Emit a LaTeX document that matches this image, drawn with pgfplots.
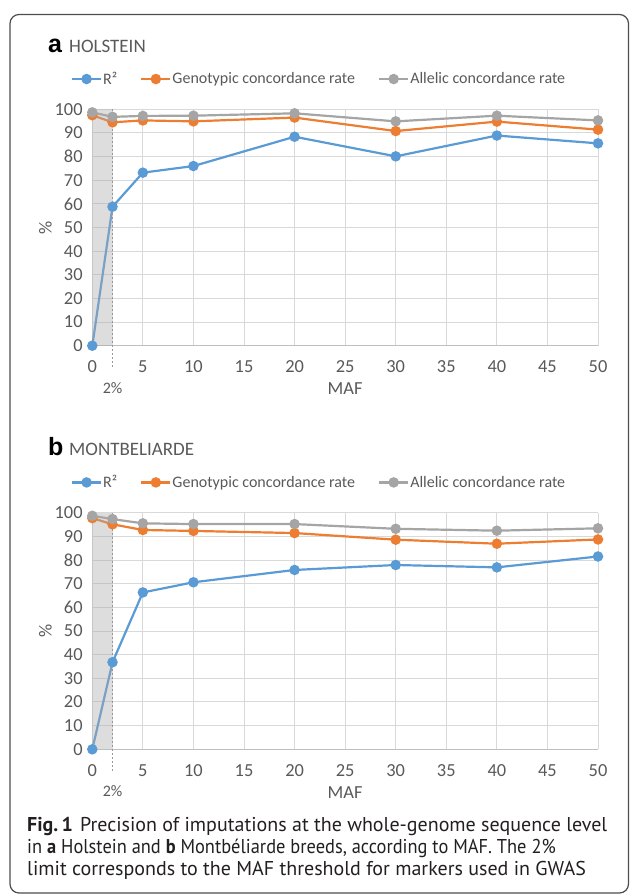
\documentclass[border=0pt]{standalone}
\usepackage{fontspec}
\usepackage{pgfplots}
\pgfplotsset{compat=1.18}
\setmainfont{Carlito}
\newfontfamily\capfont{PT Sans}
\newfontfamily\panelfont{Liberation Sans}

\definecolor{cblue}{HTML}{5B9BD5}
\definecolor{corange}{HTML}{ED7D31}
\definecolor{cgray}{HTML}{A5A5A5}
\definecolor{gridc}{HTML}{D9D9D9}
\definecolor{axc}{HTML}{BFBFBF}
\definecolor{txt}{HTML}{595959}
\definecolor{shadec}{HTML}{AAAAAA}
\definecolor{capc}{HTML}{231F20}
\definecolor{bord}{HTML}{4D4D4D}

\newcommand{\tickfont}{\fontsize{18.4}{20}\selectfont}
\newcommand{\legfont}{\fontsize{16}{18}\selectfont}

\pgfplotsset{
 mafaxis/.style={
  scale only axis, width=505.7pt,
  xmin=0, xmax=50, ymin=0, ymax=100,
  xtick={0,5,...,50}, ytick={0,10,...,100},
  axis lines*=left, axis line style={-},
  y axis line style={draw=none},
  x axis line style={draw=axc, line width=1.1pt},
  grid=major, grid style={draw=gridc, line width=1pt},
  major tick length=0pt,
  tick label style={font=\tickfont, text=txt},
  /pgf/number format/assume math mode=true,
  xticklabel style={anchor=center, inner sep=0pt, yshift=-21pt},
  yticklabel style={anchor=east, inner sep=0pt, xshift=-9.5pt},
  xlabel={MAF},
  xlabel style={at={(axis description cs:0.5,-0.182)}, anchor=center, font=\tickfont, text=txt},
  ylabel={\%},
  ylabel style={at={(axis description cs:-0.0929,0.5)}, anchor=center, font=\tickfont, text=txt},
  clip=false,
  legend columns=3,
  legend cell align=left,
  legend style={draw=none, fill=none, inner sep=0pt, outer sep=0pt,
    font=\legfont, nodes={inner sep=1pt, text=txt},
    at={(axis description cs:-0.0421,1.128)}, anchor=west,
    /tikz/every even column/.append style={column sep=22pt}},
  legend image code/.code={\draw[mark repeat=2,mark phase=2,#1] plot coordinates {(0pt,0pt) (14.5pt,0pt) (29pt,0pt)};},
 },
 ser/.style={color=#1, line width=2.2pt, mark=*, mark size=4.1pt, mark options={solid, fill=#1, draw=none}},
}

\begin{document}
\begin{tikzpicture}[x=1pt,y=1pt]
\useasboundingbox (0,0) rectangle (630,-895);
\draw[line width=1.2pt, color=bord, rounded corners=9pt] (10,-14.5) rectangle (628.5,-893);

% ---------- panel a ----------
\node[anchor=base west, inner sep=0pt, font=\panelfont\fontsize{25}{25}\selectfont\bfseries] at (48,-52) {a};
\node[anchor=base west, inner sep=0pt, font=\fontsize{19}{20}\selectfont, text=txt] at (69,-52) {HOLSTEIN};

\begin{axis}[mafaxis, height=236.4pt, at={(92.3pt,-345.7pt)}, anchor=south west]
\addplot[ser=cblue] coordinates {(0,0) (2,58.8) (5,73.2) (10,76.0) (20,88.4) (30,80.1) (40,88.9) (50,85.6)};
\addlegendentry{R²}
\addplot[ser=corange] coordinates {(0,97.5) (2,94.5) (5,95.3) (10,94.9) (20,96.5) (30,90.8) (40,94.8) (50,91.4)};
\addlegendentry{Genotypic concordance rate}
\addplot[ser=cgray] coordinates {(0,98.7) (2,96.8) (5,97.2) (10,97.3) (20,98.3) (30,94.9) (40,97.3) (50,95.3)};
\addlegendentry{Allelic concordance rate}
\fill[shadec, opacity=0.4] (axis cs:0,0) rectangle (axis cs:2,100);
\draw[dash pattern=on 2pt off 2pt, color=gray!80, line width=0.7pt] (axis cs:2,100) -- ([yshift=-22pt]axis cs:2,0);
\node[font=\legfont, text=txt, inner sep=0pt] at ([yshift=-42pt]axis cs:2,0) {2\%};
\end{axis}

% ---------- panel b ----------
\node[anchor=base west, inner sep=0pt, font=\panelfont\fontsize{25}{25}\selectfont\bfseries] at (48,-455.4) {b};
\node[anchor=base west, inner sep=0pt, font=\fontsize{19}{20}\selectfont, text=txt] at (69,-455.4) {MONTBELIARDE};

\begin{axis}[mafaxis, height=236.6pt, at={(92.3pt,-749.3pt)}, anchor=south west]
\addplot[ser=cblue] coordinates {(0,0) (2,36.8) (5,66.3) (10,70.6) (20,75.8) (30,77.9) (40,76.9) (50,81.5)};
\addlegendentry{R²}
\addplot[ser=corange] coordinates {(0,97.7) (2,95.1) (5,92.7) (10,92.3) (20,91.4) (30,88.6) (40,86.9) (50,88.7)};
\addlegendentry{Genotypic concordance rate}
\addplot[ser=cgray] coordinates {(0,98.7) (2,97.3) (5,95.5) (10,95.2) (20,95.2) (30,93.2) (40,92.4) (50,93.4)};
\addlegendentry{Allelic concordance rate}
\fill[shadec, opacity=0.4] (axis cs:0,0) rectangle (axis cs:2,100);
\draw[dash pattern=on 2pt off 2pt, color=gray!80, line width=0.7pt] (axis cs:2,100) -- ([yshift=-22pt]axis cs:2,0);
\node[font=\legfont, text=txt, inner sep=0pt] at ([yshift=-42pt]axis cs:2,0) {2\%};
\end{axis}

% ---------- caption ----------
\begin{scope}[every node/.style={anchor=base west, inner sep=0pt, font=\capfont\fontsize{20}{22}\selectfont, text=capc}]
\node at (27,-831) {{\bfseries Fig.\,1}\hspace{7pt}Precision of imputations at the whole-genome sequence level};
\node at (27,-853) {\scalebox{0.92}[1]{in {\bfseries a} Holstein and {\bfseries b} Montbéliarde breeds, according to MAF. The 2\%}};
\node at (27,-875) {limit corresponds to the MAF threshold for markers used in GWAS};
\end{scope}
\end{tikzpicture}
\end{document}
